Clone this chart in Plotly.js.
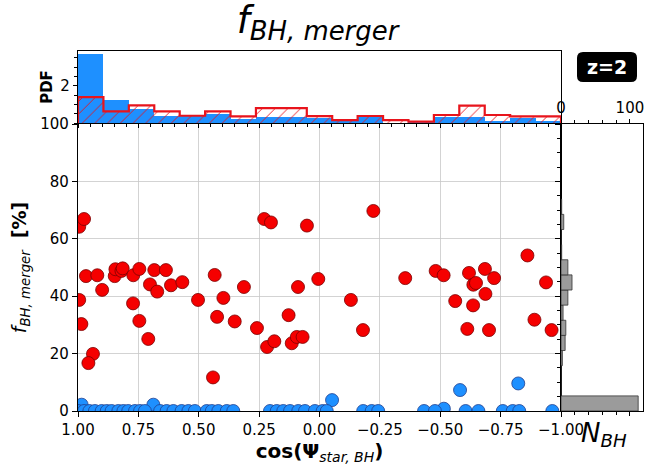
<!DOCTYPE html>
<html>
<head>
<meta charset="utf-8">
<script src="https://cdn.plot.ly/plotly-3.0.1.min.js"></script>
<style>html,body{margin:0;padding:0;background:#fff;}#chart{width:648px;height:468px;}</style>
</head>
<body>
<div id="chart"></div>
<script>
// ---- scatter data ----
const redX = [0.995,0.975,0.967,0.92,0.90,0.995,0.986,0.938,0.957,0.848,0.845,0.82,0.815,0.771,0.746,0.772,0.746,0.702,0.672,0.709,0.684,0.636,0.615,0.568,0.503,0.434,0.424,0.398,0.441,0.351,0.313,0.259,0.229,0.201,0.217,0.187,0.128,0.115,0.094,0.070,0.089,0.052,0.005,-0.223,-0.130,-0.180,-0.355,-0.481,-0.514,-0.562,-0.619,-0.612,-0.637,-0.648,-0.636,-0.685,-0.687,-0.723,-0.702,-0.861,-0.890,-0.938,-0.961];
const redY = [64.2,66.9,47.0,47.3,42.2,38.7,30.3,19.9,16.7,47.0,49.4,48.8,49.7,47.3,49.5,37.5,31.4,44.1,41.6,25.1,49.1,49.1,43.8,44.9,38.7,47.4,32.8,39.4,11.7,31.2,43.2,28.9,66.9,65.7,22.3,24.3,33.4,23.6,25.8,25.8,43.2,64.6,46.0,69.7,38.7,28.2,46.3,48.8,47.3,38.3,48.1,28.6,44.0,44.6,36.8,49.5,40.8,46.3,28.2,54.2,31.8,44.8,28.2];
const blueX = [0.985,0.688,-0.052,-0.515,-0.582,-0.823,1.0,0.975,0.953,0.93,0.902,0.881,0.861,0.833,0.812,0.792,0.764,0.743,0.723,0.66,0.633,0.605,0.571,0.543,0.516,0.467,0.446,0.419,0.384,0.357,0.205,0.177,0.150,0.122,0.088,0.060,0.019,-0.013,-0.030,-0.181,-0.216,-0.243,-0.433,-0.478,-0.605,-0.658,-0.759,-0.800,-0.827,-0.964];
const blueY = [2.2,2.2,3.8,0.8,7.3,9.6,0,0,0,0,0,0,0,0,0,0,0,0,0,0,0,0,0,0,0,0,0,0,0,0,0,0,0,0,0,0,0,0,0,0,0,0,0,0,0,0,0,0,0,0];

// ---- top histogram (PDF), bins ordered from cos=1 to cos=-1 ----
const topEdges = [1.0,0.8947,0.7895,0.6842,0.5789,0.4737,0.3684,0.2632,0.1579,0.0526,-0.0526,-0.1579,-0.2632,-0.3684,-0.4737,-0.5789,-0.6842,-0.7895,-0.8947,-1.0];
const bluePDF = [3.71,1.25,0.77,0.36,0.36,0.50,0.20,0.30,0.33,0.25,0.125,0.39,0,0.07,0.32,0.32,0.09,0.27,0.09];
const redPDF  = [1.39,0.625,0.95,0.625,0.39,0.625,0.36,0.80,0.80,0.37,0.15,0.375,0.15,0.07,0.43,0.93,0.43,0.36,0.36];

// ---- right histogram (N_BH) ----
const rightEdges = [0,5.27,10.54,15.81,21.08,26.35,31.62,36.89,42.16,47.43,52.7,57.97,63.24,68.51,73.78];
const rightCounts = [112,0,0,2,6,7,3,10,16,10,1,0,4,1];

// ---- tick labels ----
const xTickVals = [1,0.75,0.5,0.25,0,-0.25,-0.5,-0.75,-1];
const xTickText = ['1.00','0.75','0.50','0.25','0.00','\u22120.25','\u22120.50','\u22120.75','\u22121.00'];
const yTickVals = [0,20,40,60,80,100];

// derived bin geometry
const topCenters = topEdges.slice(0,-1).map((e,i)=>(e+topEdges[i+1])/2);
const topWidths = topEdges.slice(0,-1).map((e,i)=>Math.abs(topEdges[i+1]-e));
const stepX = [topEdges[0]], stepY = [0];
redPDF.forEach((h,i)=>{ stepX.push(topEdges[i]); stepY.push(h); });
stepX.push(topEdges[topEdges.length-1]); stepY.push(redPDF[redPDF.length-1]);
stepX.push(topEdges[topEdges.length-1]); stepY.push(0);
const rightCenters = rightEdges.slice(0,-1).map((e,i)=>(e+rightEdges[i+1])/2);
const rightWidths = rightEdges.slice(0,-1).map((e,i)=>rightEdges[i+1]-e);

const FONT = 'DejaVu Sans, sans-serif';

const traces = [
  {type:'bar', x:topCenters, y:bluePDF, width:topWidths, xaxis:'x2', yaxis:'y2',
   marker:{color:'#1E90FF', line:{width:0}}, hoverinfo:'skip'},
  {type:'bar', x:topCenters, y:redPDF, width:topWidths, xaxis:'x2', yaxis:'y2',
   marker:{color:'rgba(0,0,0,0)', line:{width:0},
     pattern:{shape:'/', fgcolor:'#E8141C', bgcolor:'rgba(0,0,0,0)', fillmode:'replace', size:9, solidity:0.1}},
   hoverinfo:'skip'},
  {type:'scatter', mode:'lines', x:stepX, y:stepY, xaxis:'x2', yaxis:'y2',
   line:{color:'#E8141C', width:2.2, shape:'hv'}, hoverinfo:'skip'},
  {type:'bar', orientation:'h', y:rightCenters, x:rightCounts, width:rightWidths, xaxis:'x3', yaxis:'y3',
   marker:{color:'#9b9b9b', line:{color:'#333333', width:0.8}}, hoverinfo:'skip'},
  {type:'scatter', mode:'markers', x:blueX, y:blueY, xaxis:'x', yaxis:'y',
   marker:{color:'#1E90FF', size:13, line:{color:'#1F3F8F', width:0.8}}},
  {type:'scatter', mode:'markers', x:redX, y:redY, xaxis:'x', yaxis:'y',
   marker:{color:'#F50000', size:13, line:{color:'#7A0000', width:0.8}}}
];

const xDom = [78/648, 561/648];
const yDom = [(468-411)/468, (468-124)/468];

const layout = {
  width:648, height:468,
  margin:{l:0,r:0,t:0,b:0},
  paper_bgcolor:'#fff', plot_bgcolor:'#fff',
  showlegend:false, barmode:'overlay', bargap:0,
  font:{family:FONT, size:15, color:'#000'},
  title:{text:'<i>f</i><sub><i>BH, merger</i></sub>', x:0.49, xanchor:'center', y:0.958, yanchor:'middle',
         font:{family:FONT, size:37, color:'#000'}},
  xaxis:{domain:xDom, range:[1,-1], anchor:'y', tickvals:xTickVals, ticktext:xTickText,
    showgrid:true, gridcolor:'#c8c8c8', gridwidth:0.8, zeroline:false,
    showline:true, linecolor:'#000', linewidth:1.2, mirror:true,
    ticks:'outside', ticklen:5, tickcolor:'#000', tickfont:{size:15},
    title:{text:'<b>cos(\u03A8</b><sub><i>star, BH</i></sub><b>)</b>', font:{size:20}, standoff:4}},
  yaxis:{domain:yDom, range:[0,100], anchor:'x', tickvals:yTickVals,
    showgrid:true, gridcolor:'#c8c8c8', gridwidth:0.8, zeroline:false,
    showline:true, linecolor:'#000', linewidth:1.2, mirror:true,
    ticks:'outside', ticklen:5, tickcolor:'#000', tickfont:{size:15},
    title:{text:'<i>f</i><sub><i>BH, merger</i></sub>  <b>[%]</b>', font:{size:19}, standoff:8}},
  xaxis2:{domain:xDom, range:[1,-1], anchor:'y2', matches:'x', showticklabels:false,
    showgrid:false, zeroline:false, showline:true, linecolor:'#000', linewidth:1.2, mirror:true,
    tickvals:xTickVals, ticks:'outside', ticklen:4, tickcolor:'#000',
    minor:{dtick:0.05, ticks:'outside', ticklen:2.5, tickcolor:'#000'}},
  yaxis2:{domain:[(468-123)/468, (468-51)/468], range:[0,3.87], anchor:'x2',
    tickvals:[2], showgrid:false, zeroline:false, showline:true, linecolor:'#000', linewidth:1.2, mirror:true,
    ticks:'outside', ticklen:4, tickcolor:'#000', tickfont:{size:15},
    minor:{dtick:0.5, ticks:'outside', ticklen:2.5, tickcolor:'#000'},
    title:{text:'<b>PDF</b>', font:{size:15}, standoff:4}},
  xaxis3:{domain:[561/648, 643/648], range:[0,119], anchor:'y3', side:'top',
    tickvals:[0,100], showgrid:false, zeroline:false, showline:true, linecolor:'#000', linewidth:1.2, mirror:'allticks',
    ticks:'outside', ticklen:4, tickcolor:'#000', tickfont:{size:15},
    minor:{dtick:20, ticks:'outside', ticklen:2.5, tickcolor:'#000'}},
  yaxis3:{domain:yDom, range:[0,100], anchor:'x3', matches:'y', showticklabels:false,
    tickvals:yTickVals, showgrid:false, zeroline:false, showline:true, linecolor:'#000', linewidth:1.2, mirror:true,
    ticks:'outside', ticklen:5, tickcolor:'#000',
    minor:{dtick:5, ticks:'outside', ticklen:2.5, tickcolor:'#000'}},
  shapes:[
    {type:'path', xref:'paper', yref:'paper', layer:'above',
     path:roundRect(577/648, 1-82/468, 637/648, 1-52/468, 6/648, 6/468),
     fillcolor:'#000', line:{width:0}}
  ],
  annotations:[
    {text:'<b>z=2</b>', xref:'paper', yref:'paper', x:607/648, y:1-67/468, xanchor:'center', yanchor:'middle',
     showarrow:false, font:{family:FONT, size:19, color:'#fff'}},
    {text:'<i>N</i><sub><i>BH</i></sub>', xref:'paper', yref:'paper', x:604/648, y:1-434/468, xanchor:'center', yanchor:'middle',
     showarrow:false, font:{family:FONT, size:26, color:'#000'}}
  ]
};

function roundRect(x0,y0,x1,y1,rx,ry){
  return `M ${x0+rx},${y0} L ${x1-rx},${y0} Q ${x1},${y0} ${x1},${y0+ry} L ${x1},${y1-ry} Q ${x1},${y1} ${x1-rx},${y1} L ${x0+rx},${y1} Q ${x0},${y1} ${x0},${y1-ry} L ${x0},${y0+ry} Q ${x0},${y0} ${x0+rx},${y0} Z`;
}

Plotly.newPlot('chart', traces, layout, {staticPlot:true, displayModeBar:false});
</script>
</body>
</html>
